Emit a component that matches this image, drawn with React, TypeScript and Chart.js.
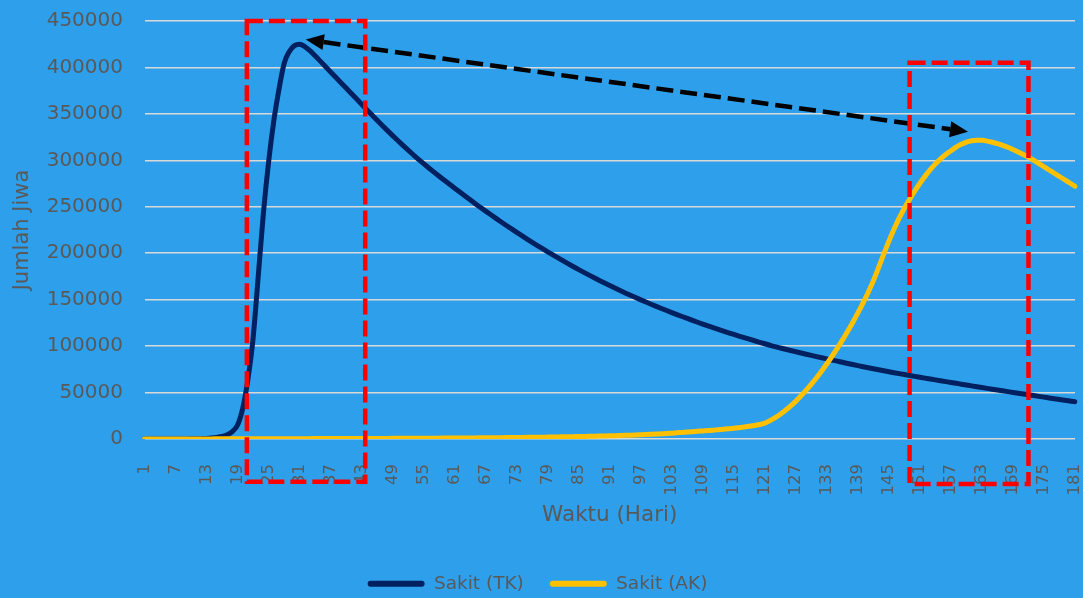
import React, { useEffect, useRef } from "react";
import { Chart, registerables } from "chart.js";

Chart.register(...registerables);

// ---- data ----
const days: string[] = Array.from({ length: 181 }, (_, i) => String(i + 1));

const sakitTK: number[] = [
  0, 0, 0, 0, 10, 20, 40, 70, 110, 170,
  260, 400, 600, 1000, 1700, 2700, 4500, 8000, 15000, 33000,
  64000, 108000, 175000, 243000, 298000, 342000, 376000, 404000, 417000, 423500,
  425000, 422500, 418000, 412500, 406800, 401000, 395200, 389400, 383600, 377800,
  372000, 366200, 360400, 354600, 348800, 343100, 337500, 332000, 326600, 321300,
  316100, 311000, 306000, 301100, 296400, 291800, 287300, 282900, 278600, 274330,
  270050, 265800, 261600, 257460, 253360, 249320, 245330, 241390, 237510, 233670,
  229890, 226160, 222480, 218860, 215280, 211760, 208290, 204870, 201510, 198190,
  194930, 191720, 188560, 185460, 182400, 179400, 176450, 173550, 170710, 167910,
  165170, 162480, 159840, 157260, 154720, 152240, 149810, 147430, 145100, 142810,
  140550, 138320, 136130, 133980, 131860, 129770, 127720, 125710, 123730, 121780,
  119870, 118000, 116160, 114350, 112570, 110820, 109100, 107410, 105750, 104120,
  102520, 100950, 99410, 98000, 96610, 95240, 93890, 92560, 91250, 89960,
  88690, 87440, 86210, 85000, 83790, 82560, 81350, 80160, 78990, 77840,
  76710, 75600, 74510, 73440, 72390, 71360, 70350, 69360, 68390, 67430,
  66480, 65530, 64580, 63640, 62710, 61780, 60850, 59930, 59020, 58110,
  57200, 56300, 55410, 54520, 53630, 52750, 51880, 51010, 50140, 49280,
  48430, 47580, 46730, 45890, 45060, 44230, 43400, 42580, 41770, 40960,
  40150,
];

const sakitAK: number[] = [
  0, 10, 20, 30, 40, 50, 60, 70, 80, 90,
  100, 110, 120, 130, 140, 150, 160, 175, 190, 205,
  220, 235, 250, 265, 280, 295, 310, 325, 340, 355,
  370, 385, 400, 415, 430, 445, 460, 475, 490, 505,
  520, 540, 560, 580, 600, 620, 640, 660, 680, 700,
  730, 760, 790, 820, 850, 880, 910, 940, 970, 1000,
  1040, 1080, 1120, 1160, 1200, 1250, 1300, 1350, 1400, 1450,
  1500, 1560, 1620, 1690, 1760, 1830, 1900, 1980, 2060, 2150,
  2240, 2340, 2440, 2550, 2660, 2780, 2900, 3030, 3170, 3310,
  3460, 3620, 3790, 3970, 4160, 4360, 4570, 4790, 5020, 5260,
  5600, 5900, 6300, 6700, 7100, 7500, 7900, 8300, 8700, 9100,
  9500, 10000, 10500, 11000, 11600, 12200, 12900, 13700, 14600, 15600,
  17000, 19800, 23000, 26700, 30900, 35600, 40800, 46500, 52600, 59100,
  66000, 73300, 81000, 89100, 97600, 106500, 115800, 125500, 135700, 146500,
  158000, 170500, 184500, 199000, 213000, 226000, 238000, 248500, 258000, 267000,
  275300, 283000, 290000, 296200, 301600, 306300, 310300, 314200, 317200, 319500,
  321000, 321700, 321500, 320700, 319500, 318000, 316200, 314100, 311700, 309100,
  306300, 303300, 300100, 296600, 293100, 289600, 286100, 282600, 279100, 275600,
  272100,
];

const seriesNames: string[] = ["Sakit (TK)", "Sakit (AK)"];
const xTitle = "Waktu (Hari)";
const yTitle = "Jumlah Jiwa";
const yMin = 0;
const yMax = 450000;
const yStep = 50000;
const xLabelEvery = 6;

// annotation shapes in data units (day, value)
const boxDayFrom: number[] = [20.8, 149];
const boxDayTo: number[] = [43.7, 172];
const boxValueTop: number[] = [450000, 405000];
const boxValueBottom: number[] = [-46000, -48500];
const arrowDays: number[] = [32.2, 160.3];
const arrowValues: number[] = [430000, 330800];

// ---- styles ----
const BG = "#2EA0EB";
const TEXT = "#595959";
const FONT = "'DejaVu Sans', sans-serif";

const bgPlugin = {
  id: "bgfill",
  beforeDraw(chart: any) {
    const { ctx, width, height } = chart;
    ctx.save();
    ctx.fillStyle = BG;
    ctx.fillRect(0, 0, width, height);
    ctx.restore();
  },
};

const annotPlugin = {
  id: "annot",
  afterDraw(chart: any) {
    const { ctx } = chart;
    const xs = chart.scales.x;
    const ys = chart.scales.y;
    const px = (d: number) => xs.getPixelForValue(d - 1);
    const py = (v: number) => ys.getPixelForValue(v);
    ctx.save();
    // arrow
    const x1 = px(arrowDays[0]);
    const y1 = py(arrowValues[0]);
    const x2 = px(arrowDays[1]);
    const y2 = py(arrowValues[1]);
    const ang = Math.atan2(y2 - y1, x2 - x1);
    const c = Math.cos(ang);
    const s = Math.sin(ang);
    const head = 18;
    const hw = 8;
    ctx.strokeStyle = "#000000";
    ctx.fillStyle = "#000000";
    ctx.lineWidth = 4.5;
    ctx.setLineDash([17, 7]);
    ctx.beginPath();
    ctx.moveTo(x1 + c * head, y1 + s * head);
    ctx.lineTo(x2 - c * head, y2 - s * head);
    ctx.stroke();
    ctx.setLineDash([]);
    const drawHead = (tx: number, ty: number, dx: number, dy: number) => {
      const bx = tx - dx * head;
      const by = ty - dy * head;
      ctx.beginPath();
      ctx.moveTo(tx, ty);
      ctx.lineTo(bx - dy * hw, by + dx * hw);
      ctx.lineTo(bx + dy * hw, by - dx * hw);
      ctx.closePath();
      ctx.fill();
    };
    drawHead(x2, y2, c, s);
    drawHead(x1, y1, -c, -s);
    // red dashed boxes
    ctx.strokeStyle = "#FF0000";
    ctx.lineWidth = 4.5;
    ctx.setLineDash([16, 6]);
    for (let i = 0; i < boxDayFrom.length; i++) {
      const l = px(boxDayFrom[i]);
      const r = px(boxDayTo[i]);
      const t = py(boxValueTop[i]);
      const b = py(boxValueBottom[i]);
      ctx.strokeRect(l, t, r - l, b - t);
    }
    ctx.restore();
  },
};

export default function App() {
  const ref = useRef<HTMLCanvasElement>(null);

  useEffect(() => {
    document.body.style.margin = "0";
    document.body.style.background = BG;
    if (!ref.current) return;
    const chart = new Chart(ref.current, {
      type: "line",
      data: {
        labels: days,
        datasets: [
          {
            label: seriesNames[0],
            data: sakitTK,
            borderColor: "#002060",
            backgroundColor: "#002060",
            borderWidth: 5,
            pointRadius: 0,
            cubicInterpolationMode: "monotone",
            borderCapStyle: "round",
            borderJoinStyle: "round",
            fill: false,
            order: 1,
          },
          {
            label: seriesNames[1],
            data: sakitAK,
            borderColor: "#FFC000",
            backgroundColor: "#FFC000",
            borderWidth: 5,
            pointRadius: 0,
            cubicInterpolationMode: "monotone",
            borderCapStyle: "round",
            borderJoinStyle: "round",
            fill: false,
            order: 0,
          },
        ],
      },
      options: {
        responsive: false,
        animation: false,
        devicePixelRatio: 1,
        events: [],
        layout: { padding: { top: 21, right: 8, left: 0, bottom: -5 } },
        scales: {
          x: {
            type: "category",
            offset: false,
            grid: { display: false, drawTicks: false },
            border: { display: false },
            ticks: {
              autoSkip: false,
              minRotation: 90,
              maxRotation: 90,
              padding: 25,
              color: TEXT,
              font: { family: FONT, size: 16.5 },
              callback: function (this: any, value: any, index: number) {
                return index % xLabelEvery === 0 ? days[index] : "";
              },
            },
            title: {
              display: true,
              text: xTitle,
              color: TEXT,
              font: { family: FONT, size: 21.5 },
              padding: { top: 0, bottom: 20.6 },
            },
            afterFit(scale: any) {
              scale.height = 109.5;
              scale.paddingLeft = 0;
              scale.paddingRight = 0;
            },
          },
          y: {
            min: yMin,
            max: yMax,
            grid: { color: "#D9D9D9", lineWidth: 1.5, drawTicks: false },
            border: { display: false },
            ticks: {
              stepSize: yStep,
              padding: 21.5,
              color: TEXT,
              font: { family: FONT, size: 20 },
              callback: (value: any) => String(value),
            },
            title: {
              display: true,
              text: yTitle,
              color: TEXT,
              font: { family: FONT, size: 21 },
              padding: { top: 10.4, bottom: 0 },
            },
            afterFit(scale: any) {
              scale.width = 144.5;
              scale.paddingTop = 0;
              scale.paddingBottom = 0;
            },
          },
        },
        plugins: {
          tooltip: { enabled: false },
          title: { display: false },
          legend: {
            display: true,
            position: "bottom",
            labels: {
              boxWidth: 57,
              boxHeight: 6,
              padding: 26,
              color: TEXT,
              font: { family: FONT, size: 18.5 },
              sort: (a: any, b: any) => a.datasetIndex - b.datasetIndex,
              generateLabels: (ch: any) =>
                (Chart.defaults.plugins.legend.labels as any)
                  .generateLabels(ch)
                  .map((l: any) => ({
                    ...l,
                    lineWidth: 0,
                    fillStyle: l.strokeStyle,
                    borderRadius: 3,
                  })),
            },
          },
        },
      } as any,
      plugins: [bgPlugin, annotPlugin],
    });
    return () => chart.destroy();
  }, []);

  return (
    <div style={{ width: 1083, height: 598 }}>
      <canvas ref={ref} width={1083} height={598} />
    </div>
  );
}
